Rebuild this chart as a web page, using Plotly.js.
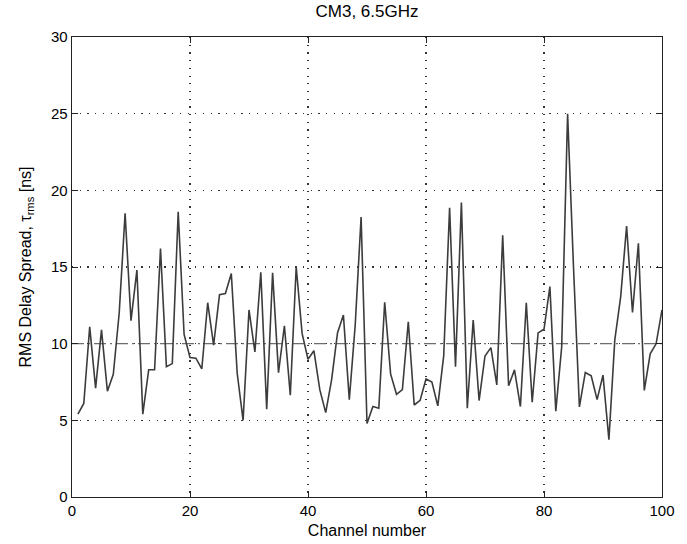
<!DOCTYPE html>
<html>
<head>
<meta charset="utf-8">
<script src="https://cdn.plot.ly/plotly-3.0.1.min.js"></script>
<style>html,body{margin:0;padding:0;background:#fff;}#chart{width:687px;height:544px;}</style>
</head>
<body>
<div id="chart"></div>
<script>
const channels = Array.from({length: 100}, (_, i) => i + 1);
const tauRms = [
  5.4, 6.1, 11.1, 7.1, 10.9, 6.9, 8.0, 12.0, 18.5, 11.5,
  14.8, 5.4, 8.3, 8.3, 16.2, 8.5, 8.7, 18.6, 10.6, 9.1,
  9.05, 8.35, 12.67, 9.9, 13.2, 13.27, 14.58, 8.07, 5.0, 12.2,
  9.46, 14.66, 5.73, 14.62, 8.11, 11.17, 6.64, 15.0, 10.67, 8.98,
  9.54, 7.0, 5.5, 7.64, 10.7, 11.87, 6.35, 11.2, 18.26, 4.8,
  5.9, 5.79, 12.7, 8.03, 6.7, 7.0, 11.43, 6.0, 6.3, 7.7,
  7.5, 5.94, 9.2, 18.87, 8.5, 19.2, 5.79, 11.54, 6.29, 9.2,
  9.74, 7.31, 17.07, 7.25, 8.29, 5.9, 12.67, 6.18, 10.7, 10.94,
  13.72, 5.59, 9.8, 25.0, 15.0, 5.87, 8.12, 7.9, 6.35, 7.95,
  3.74, 10.25, 13.07, 17.67, 12.03, 16.54, 6.95, 9.34, 9.99, 12.2
];
const refX = [0, 100];
const refY = [10, 10];
const xTicks = [0, 20, 40, 60, 80, 100];
const yTicks = [0, 5, 10, 15, 20, 25, 30];

const font = {family: 'Liberation Sans, Arial, sans-serif', size: 15, color: '#000'};

const traces = [
  {x: refX, y: refY, mode: 'lines', line: {color: '#6e6e6e', width: 1.2, dash: '12px,4px,2px,4px'}, hoverinfo: 'skip', showlegend: false},
  {x: channels, y: tauRms, mode: 'lines', line: {color: '#3c3c3c', width: 1.6}, showlegend: false}
];

const axisCommon = {
  showline: true, linecolor: '#222', linewidth: 1.3, mirror: 'ticks',
  ticks: 'inside', ticklen: 6, tickcolor: '#222',
  showgrid: true, gridcolor: '#333', griddash: '1.2px,6.5px', gridwidth: 1.1,
  zeroline: false, tickfont: font
};

const layout = {
  width: 687, height: 544,
  margin: {l: 72, r: 25, t: 37, b: 47},
  paper_bgcolor: '#fff', plot_bgcolor: '#fff',
  font: font,
  title: {text: 'CM3, 6.5GHz', font: {family: font.family, size: 17, color: '#000'}, x: 0.5, xref: 'paper', xanchor: 'center', y: 0.99, yanchor: 'top'},
  xaxis: Object.assign({}, axisCommon, {range: [0, 100], tickvals: xTicks, title: {text: 'Channel number', font: {family: font.family, size: 16, color: '#000'}, standoff: 6}}),
  yaxis: Object.assign({}, axisCommon, {range: [0, 30], tickvals: yTicks, title: {text: 'RMS Delay Spread, τ<sub>rms</sub> [ns]', font: {family: font.family, size: 16, color: '#000'}, standoff: 15}})
};

Plotly.newPlot('chart', traces, layout, {displayModeBar: false, staticPlot: true});
</script>
</body>
</html>
